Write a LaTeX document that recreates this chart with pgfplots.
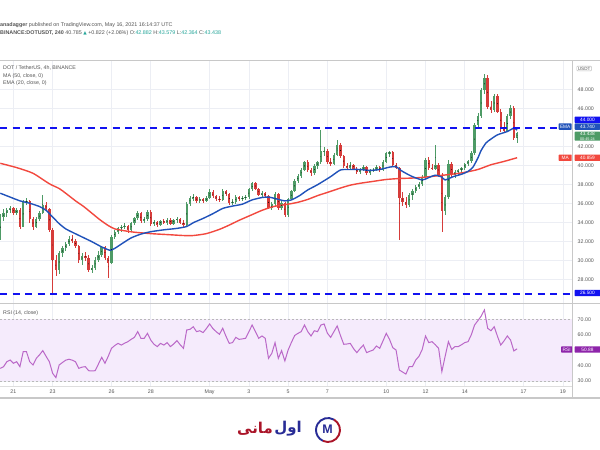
\documentclass[border=0pt]{standalone}
\usepackage{pgfplots}
\pgfplotsset{compat=1.18}
\usepackage{pgfplotstable}
\usepackage{fontspec}
\setmainfont{Liberation Sans}
\newfontfamily\dejavu{DejaVu Sans}
\newfontfamily\arabicfont[Script=Arabic]{DejaVu Sans}
\TeXXeTstate=1
\definecolor{upc}{RGB}{78,155,102}
\definecolor{dnc}{RGB}{214,60,58}
\definecolor{mac}{RGB}{242,72,62}
\definecolor{emac}{RGB}{32,82,186}
\definecolor{hl}{RGB}{18,18,240}
\definecolor{rsic}{RGB}{186,104,200}
\definecolor{rsib}{RGB}{245,235,252}
\definecolor{rsibox}{RGB}{142,36,170}
\definecolor{txt}{RGB}{85,85,85}
\definecolor{teal1}{RGB}{38,166,154}
\definecolor{framec}{RGB}{200,200,200}
\definecolor{gridc}{RGB}{236,238,244}
\definecolor{logoblue}{RGB}{40,44,150}
\definecolor{logored}{RGB}{170,20,40}
\pgfplotsset{tvaxis/.style={scale only axis, width=572.7bp, xmin=-0.09, xmax=175, axis line style={draw=none}, major tick length=0pt, grid=major, grid style={gridc, line width=0.6bp}, xtick={4,16,34,46,64,76,88,100,118,130,142,160,172}},
candle/.style 2 args={only marks, mark=*, mark size=0.01pt, mark options={draw=none, fill=none}, error bars/.cd, y dir=both, y explicit, error mark=none, error bar style={draw=#1, line width=#2}}}
% up candles: k open high low close
\pgfplotstableread{
k o h l c
0 32.4 34.9 32.2 34.6
1 34.6 35.4 34.2 35.0
2 35.0 35.6 34.6 35.3
3 35.3 35.8 35.0 35.5
5 35.0 35.6 34.8 35.3
7 33.6 36.4 33.5 36.2
8 36.2 36.6 35.9 36.3
11 33.6 34.6 33.4 34.4
12 34.4 35.2 34.2 35.0
13 35.0 36.9 34.9 35.9
18 29.0 31.0 28.6 30.8
19 30.8 31.5 30.4 31.3
20 31.3 32.0 31.0 31.8
21 31.8 32.6 31.5 32.3
25 30.1 30.8 29.6 30.5
28 29.0 29.6 28.7 29.2
29 29.2 30.4 29.0 30.1
30 30.1 31.0 29.9 30.6
31 30.6 31.6 30.4 31.4
34 29.8 32.7 29.7 32.5
35 32.5 33.2 32.3 33.05
36 33.05 33.6 32.8 33.4
37 33.4 33.8 33.0 33.6
38 33.6 34.0 33.3 33.7
40 33.2 34.1 33.0 34.0
41 34.0 34.6 33.8 34.45
42 34.45 35.2 34.3 35.0
44 34.2 34.6 34.0 34.4
45 34.4 35.3 34.2 35.1
47 33.9 34.3 33.7 34.1
49 33.8 34.3 33.7 34.2
51 34.0 34.5 33.8 34.3
53 33.9 34.4 33.8 34.3
54 34.3 34.6 34.0 34.4
57 33.8 36.2 33.7 36.0
58 36.0 36.8 35.8 36.6
59 36.6 37.0 36.3 36.7
61 36.3 36.7 36.1 36.5
63 36.3 36.8 36.2 36.6
64 36.6 37.6 36.5 37.2
68 36.4 37.5 36.3 37.3
71 36.1 36.5 35.9 36.2
72 36.2 36.9 36.0 36.7
74 36.5 36.8 36.3 36.6
75 36.6 36.9 36.4 36.75
76 36.75 37.7 36.5 37.5
77 37.5 38.3 37.3 38.15
80 36.9 37.3 36.7 37.1
83 35.5 36.2 35.3 36.0
84 36.0 37.2 35.8 37.0
86 35.5 36.3 35.3 36.1
88 34.8 36.6 34.6 36.5
89 36.5 37.4 36.4 37.3
90 37.3 38.6 37.2 38.4
91 38.4 39.1 38.2 38.9
92 38.9 39.8 38.7 39.6
93 39.6 40.5 39.4 40.4
96 39.2 40.2 39.0 40.0
97 40.0 40.5 39.7 40.4
98 40.4 43.8 40.2 41.5
99 41.5 42.0 41.0 41.6
102 40.2 41.3 40.1 41.1
103 41.1 42.7 41.0 42.2
107 39.8 40.4 39.7 40.1
110 39.3 39.8 39.1 39.6
111 39.6 40.1 39.4 39.9
113 39.2 39.7 39.0 39.5
114 39.5 39.8 39.3 39.6
115 39.6 40.1 39.4 39.9
117 39.5 40.6 39.4 40.4
118 40.4 41.4 40.3 41.3
119 41.3 41.6 40.9 41.45
125 35.9 37.1 35.7 36.9
126 36.9 37.5 36.4 37.3
127 37.3 38.0 37.1 37.8
128 37.8 38.3 37.5 38.1
129 38.1 39.0 37.9 38.85
130 38.85 40.8 38.6 40.6
133 39.7 42.2 39.5 40.1
136 35.2 36.9 34.8 36.7
137 36.7 40.6 36.5 40.2
139 39.0 39.6 38.7 39.3
140 39.3 39.7 39.0 39.5
141 39.5 39.9 39.2 39.8
142 39.8 40.3 39.6 40.2
143 40.2 40.6 40.0 40.5
144 40.5 41.5 40.3 41.3
145 41.3 44.5 41.1 44.3
146 44.3 45.5 44.0 45.2
147 45.2 48.2 45.0 48.0
148 48.0 49.7 47.6 49.2
151 45.9 47.5 45.7 47.3
155 43.7 45.4 43.5 45.2
156 45.2 46.4 44.9 46.1
158 42.882 43.579 42.364 43.438
}\upcandles
% down candles
\pgfplotstableread{
k o h l c
4 35.5 35.7 34.8 35.0
6 35.3 35.5 33.3 33.6
9 36.3 36.4 34.0 34.4
10 34.4 34.6 33.2 33.6
14 35.9 36.2 35.2 35.4
15 35.4 35.6 33.0 33.2
16 33.2 33.4 26.6 30.1
17 30.1 30.6 28.4 29.0
22 32.3 32.7 31.9 32.1
23 32.1 32.3 31.3 31.5
24 31.5 31.7 29.8 30.1
26 30.5 30.9 30.0 30.3
27 30.3 30.6 28.8 29.0
32 31.4 31.6 30.1 30.3
33 30.3 30.5 28.2 29.8
39 33.7 33.8 32.9 33.2
43 35.0 35.1 34.0 34.2
46 35.1 35.3 33.7 33.9
48 34.1 34.2 33.6 33.8
50 34.2 34.4 33.9 34.0
52 34.3 34.5 33.8 33.9
55 34.4 34.5 33.9 34.0
56 34.0 34.3 33.6 33.8
60 36.7 36.8 36.1 36.3
62 36.5 36.6 36.1 36.3
65 37.2 37.4 36.6 36.8
66 36.8 36.9 36.3 36.5
67 36.5 36.8 36.2 36.4
69 37.3 37.4 36.8 37.0
70 37.0 37.1 35.9 36.1
73 36.7 36.8 36.3 36.5
78 38.15 38.3 37.4 37.6
79 37.6 37.7 36.8 36.9
81 37.1 37.2 36.7 36.8
82 36.8 36.9 35.4 35.5
85 37.0 37.1 35.3 35.5
87 36.1 36.2 34.6 34.8
94 40.4 40.6 39.3 39.5
95 39.5 39.8 38.9 39.2
100 41.6 41.8 40.2 40.4
101 40.4 40.8 40.0 40.2
104 42.2 42.4 40.8 41.0
105 41.0 41.1 39.8 40.0
106 40.0 40.3 39.5 39.8
108 40.1 40.2 39.6 39.7
109 39.7 39.9 39.1 39.3
112 39.9 40.0 39.0 39.2
116 39.9 40.0 39.3 39.5
120 41.45 41.5 40.0 40.1
121 40.1 40.3 39.7 39.8
122 39.8 39.9 32.2 36.6
123 36.6 37.2 35.8 36.2
124 36.2 36.7 35.6 35.9
131 40.6 40.9 39.6 39.8
132 39.8 40.2 39.5 39.7
134 40.1 40.3 38.8 39.0
135 39.0 39.2 33.05 35.2
138 40.2 40.4 38.8 39.0
149 49.2 49.5 46.0 46.2
150 46.2 46.8 45.6 45.9
152 47.3 47.6 45.5 45.7
153 45.7 46.0 43.6 43.9
154 43.9 44.6 43.4 43.7
157 46.1 46.3 42.7 42.9
}\dncandles
\begin{document}
\begin{tikzpicture}
\fill[white] (0bp,0bp) rectangle (600bp,450bp);
% price pane
\begin{axis}[tvaxis, at={(0bp,146.5bp)}, anchor=south west, height=242.8bp,
  ymin=25.495, ymax=51.053, ytick={28,30,...,42,46,48}, xticklabels={},
  yticklabel pos=right,
  yticklabel style={font=\fontsize{5.3}{6}\selectfont, text=txt, xshift=1.5bp, /pgf/number format/.cd, fixed, fixed zerofill, precision=3, assume math mode=true}]
\addplot[candle={dnc}{0.7bp}] table[x=k, y expr=(\thisrow{h}+\thisrow{l})/2, y error expr=(\thisrow{h}-\thisrow{l})/2] {\dncandles};
\addplot[candle={upc}{0.7bp}] table[x=k, y expr=(\thisrow{h}+\thisrow{l})/2, y error expr=(\thisrow{h}-\thisrow{l})/2] {\upcandles};
\addplot[candle={dnc}{2.4bp}] table[x=k, y expr=(\thisrow{o}+\thisrow{c})/2, y error expr=(\thisrow{o}-\thisrow{c})/2] {\dncandles};
\addplot[candle={upc}{2.4bp}] table[x=k, y expr=(\thisrow{o}+\thisrow{c})/2, y error expr=(\thisrow{c}-\thisrow{o})/2] {\upcandles};
% MA 50
\addplot[mac, line width=1.4bp, smooth, tension=0.4] coordinates {
(0,40.25) (5,39.8) (10,39.2) (15,38.1) (18,37.6) (20,37.1) (23,36.3) (25.5,35.7) (28,35.0) (30.5,34.3) (33,33.7) (35,33.35) (38,33.15) (41,33.0) (46,32.85) (51,32.75) (56,32.65) (59,32.65) (63,32.85) (67,33.3) (70,33.75) (73,34.25) (77,34.85) (80,35.3) (83.5,35.7) (88,35.95) (91,36.15) (94,36.45) (97,36.85) (101,37.3) (104,37.65) (107,37.95) (110,38.15) (114,38.35) (118,38.55) (122,38.65) (126,38.7) (130,38.8) (134,38.95) (138,39.1) (142,39.3) (146,39.6) (150,40.1) (154,40.45) (158,40.84)};
% EMA 20
\addplot[emac, line width=1.4bp, smooth, tension=0.4] coordinates {
(0,37.1) (3,36.7) (6,36.3) (9,36.05) (12,35.7) (14,35.3) (16,34.6) (18,33.9) (20,33.35) (22,33.0) (25,32.5) (28,32.0) (31,31.45) (33.5,31.1) (35,31.3) (37,31.75) (40,32.4) (43,32.8) (46,33.05) (50,33.25) (54,33.4) (57,33.6) (59,34.0) (62,34.45) (65,34.95) (68,35.5) (71,35.75) (74,35.95) (77,36.4) (80,36.65) (82,36.7) (84.5,36.5) (87,36.3) (89,36.4) (91.5,36.85) (94,37.45) (97,38.0) (101,38.85) (104,39.55) (107,39.6) (110,39.6) (113,39.5) (116,39.6) (119,39.85) (121,39.9) (122.5,39.5) (124,39.2) (126,38.85) (129,38.5) (131,38.75) (133,39.0) (135,38.8) (136,38.5) (138.5,38.85) (141,39.1) (143,39.4) (144.5,39.85) (146,40.8) (147,41.6) (148.5,42.4) (150,42.8) (152,43.25) (155,43.6) (157,43.95) (158,43.74)};
% horizontal levels
\addplot[hl, line width=1.6bp, dash pattern=on 7bp off 5.5bp] coordinates {(-0.09,44) (175,44)};
\addplot[hl, line width=1.6bp, dash pattern=on 7bp off 5.5bp] coordinates {(-0.09,26.5) (175,26.5)};
\end{axis}
% RSI pane
\begin{axis}[tvaxis, at={(0bp,64bp)}, anchor=south west, height=82.5bp,
  ymin=26.76, ymax=80.26, ytick={30,40,60,70},
  xticklabels={21,23,26,28,May,3,5,7,10,12,14,17,19},
  xticklabel style={font=\fontsize{5.3}{6}\selectfont, text=txt},
  yticklabel pos=right,
  yticklabel style={font=\fontsize{5.3}{6}\selectfont, text=txt, xshift=1.5bp, /pgf/number format/.cd, fixed, fixed zerofill, precision=2, assume math mode=true}]
\fill[rsib] (axis cs:-0.09,30) rectangle (axis cs:175,70);
\draw[gray!55, line width=0.5bp, dash pattern=on 2bp off 2bp] (axis cs:-0.09,70) -- (axis cs:175,70);
\draw[gray!55, line width=0.5bp, dash pattern=on 2bp off 2bp] (axis cs:-0.09,30) -- (axis cs:175,30);
\addplot[rsic, line width=1bp] coordinates {
(0,38.2) (1,39.3) (2,42.5) (3,43.6) (4,41.5) (5,42.5) (6,39.3) (7,49.0) (8,49.0) (9,42.5) (10,40.4) (11,44.7) (12,47.0) (13,49.7) (14,46.0) (15,42.5) (16,35.0) (17,32.2) (18,40.4) (19,42.0) (20,43.5) (21,44.1) (22,43.5) (23,42.5) (24,38.2) (25,39.0) (26,39.3) (27,36.7) (28,36.5) (29,36.7) (30,41.0) (31,45.4) (32,41.5) (33,46.0) (34,51.2) (35,53.0) (36,54.4) (37,53.3) (38,54.5) (39,55.5) (40,57.0) (41,58.3) (42,62.0) (43,57.7) (44,57.7) (45,60.9) (46,56.5) (47,53.8) (48,52.3) (49,54.4) (50,53.3) (51,54.9) (52,52.3) (53,54.0) (54,56.2) (55,53.5) (56,51.2) (57,63.1) (58,63.5) (59,65.2) (60,62.0) (61,62.6) (62,61.4) (63,64.0) (64,67.0) (65,64.0) (66,62.0) (67,60.3) (68,64.2) (69,59.0) (70,54.4) (71,54.9) (72,58.3) (73,57.0) (74,57.3) (75,57.7) (76,62.0) (77,66.3) (78,62.0) (79,57.7) (80,59.2) (81,57.7) (82,44.7) (83,47.9) (84,54.9) (85,44.7) (86,49.7) (87,43.0) (88,50.1) (89,55.0) (90,59.5) (91,60.9) (92,62.0) (93,66.3) (94,62.0) (95,59.2) (96,62.6) (97,62.0) (98,66.3) (99,67.0) (100,61.0) (101,58.3) (102,62.0) (103,65.7) (104,59.5) (105,53.8) (106,54.0) (107,54.4) (108,51.0) (109,48.4) (110,51.0) (111,53.3) (112,48.4) (113,49.3) (114,50.1) (115,52.7) (116,51.2) (117,56.0) (118,60.9) (119,57.0) (120,51.6) (121,50.1) (122,37.1) (123,35.8) (124,34.5) (125,39.3) (126,39.3) (127,43.6) (128,46.0) (129,50.5) (130,59.2) (131,54.9) (132,55.5) (133,53.5) (134,51.2) (135,36.1) (136,46.0) (137,55.5) (138,50.5) (139,52.3) (140,52.3) (141,53.5) (142,54.9) (143,55.5) (144,60.0) (145,66.3) (146,69.1) (147,72.0) (148,76.1) (149,64.2) (150,62.6) (151,65.2) (152,59.0) (153,53.3) (154,56.0) (155,59.2) (156,56.6) (157,49.5) (158,50.88)};
\end{axis}
\begin{scope}[x=1bp,y=1bp]
% header
\node[anchor=west, inner sep=0, font=\fontsize{5.4}{6}\selectfont, text=txt] at (0,425) {\textbf{anadagger} published on TradingView.com, May 16, 2021 16:14:37 UTC};
\node[anchor=west, inner sep=0, font=\fontsize{5.4}{6}\selectfont, text=txt] at (0,416.7) {\textbf{BINANCE:DOTUSDT, 240} 40.785 {\color{teal1}\dejavu\fontsize{4.5}{5}\selectfont ▲} +0.822 (+2.06\%) O:\textcolor{teal1}{42.882} H:\textcolor{teal1}{43.579} L:\textcolor{teal1}{42.364} C:\textcolor{teal1}{43.438}};
% frame
\draw[framec, line width=1.3bp] (0,389.3) -- (600,389.3);
\draw[framec, line width=1bp] (0,146.5) -- (600,146.5);
\draw[framec!60, line width=0.5bp] (0,64) -- (572.7,64);
\draw[framec, line width=1.3bp] (0,52) -- (600,52);
\draw[framec, line width=0.8bp] (572.7,52) -- (572.7,389.3);
% pane legends
\node[anchor=west, inner sep=0, font=\fontsize{5.3}{6}\selectfont, text=txt] at (3,381.7) {DOT / TetherUS, 4h, BINANCE};
\node[anchor=west, inner sep=0, font=\fontsize{5.3}{6}\selectfont, text=txt] at (3,374) {MA (50, close, 0)};
\node[anchor=west, inner sep=0, font=\fontsize{5.3}{6}\selectfont, text=txt] at (3,366.7) {EMA (20, close, 0)};
\node[anchor=west, inner sep=0, font=\fontsize{5.3}{6}\selectfont, text=txt] at (3,136.7) {RSI (14, close)};
% scale boxes
\tikzset{bx/.style={anchor=west, fill=#1, text=white, inner xsep=1.2bp, inner ysep=0.6bp, font=\fontsize{4.8}{5.4}\selectfont, minimum height=6.4bp, rounded corners=0.6bp}}
\node[anchor=west, fill=white, draw=gray!50, text=txt, inner xsep=1.2bp, inner ysep=0.8bp, font=\fontsize{4.6}{5}\selectfont, rounded corners=1bp] at (576.5,381.5) {USDT};
\node[bx=hl, minimum width=25.5bp] at (574.5,330.2) {44.000};
\node[bx=emac, minimum width=25.5bp] at (574.5,323.4) {43.740};
\node[bx=emac, minimum width=13bp] at (558.5,323.4) {EMA};
\node[bx=upc, minimum width=25.5bp, align=center, inner ysep=0.5bp] at (574.5,313.8) {43.438\\[-0.8bp]{\fontsize{3.8}{4.2}\selectfont 00:45:24}};
\node[bx=mac, minimum width=13bp] at (558.5,292.2) {MA};
\node[bx=mac, minimum width=25.5bp] at (574.5,292.2) {40.859};
\node[bx=hl, minimum width=25.5bp] at (574.5,157) {26.500};
\node[bx=rsibox, minimum width=11bp] at (561,100.5) {RSI};
\node[bx=rsibox, minimum width=25.5bp] at (574.5,100.5) {50.88};
% logo
\draw[logoblue, line width=1.9bp] (328,20) ++(60:12) arc[start angle=60, end angle=245, radius=12];
\draw[logored, line width=1.9bp] (328,20) ++(245:12) arc[start angle=245, end angle=420, radius=12];
\node[text=logoblue, font=\bfseries\fontsize{12.5}{12.5}\selectfont, inner sep=0] at (327.5,20.5) {M};
\node[anchor=east, inner sep=0, text=logoblue, font=\arabicfont\bfseries\fontsize{15}{15}\selectfont] at (302,21) {\beginR اول\endR};
\node[anchor=east, inner sep=0, text=logored, font=\arabicfont\bfseries\fontsize{15}{15}\selectfont] at (273,21) {\beginR مانی\endR};
\end{scope}
\pgfresetboundingbox
\path[use as bounding box] (0bp,0bp) rectangle (600bp,450bp);
\end{tikzpicture}
\end{document}
